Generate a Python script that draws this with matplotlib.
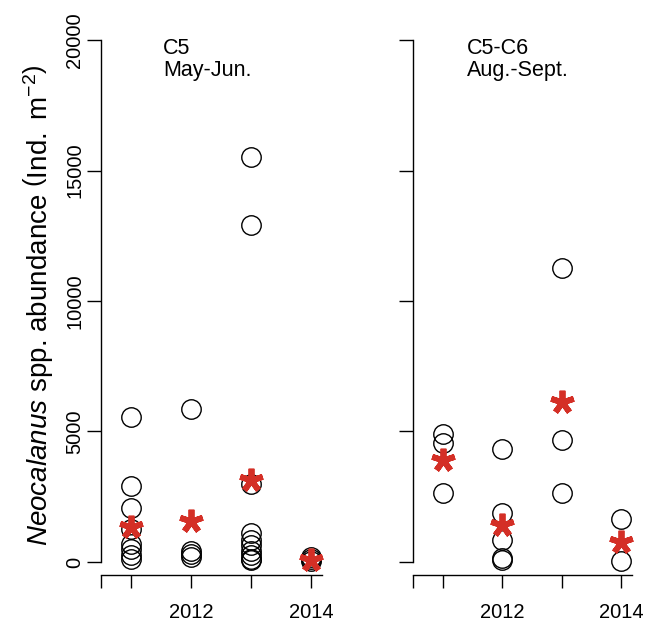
import matplotlib
matplotlib.use("Agg")
import matplotlib.pyplot as plt

plt.rcParams['font.family'] = ['Liberation Sans', 'DejaVu Sans']
plt.rcParams['mathtext.fontset'] = 'custom'
plt.rcParams['mathtext.rm'] = 'Liberation Sans'
plt.rcParams['mathtext.it'] = 'Liberation Sans:italic'
plt.rcParams['mathtext.bf'] = 'Liberation Sans:bold'

# ---- data ----
years = [2011, 2012, 2013, 2014]
xtick_pos = [2010.5, 2011, 2012, 2013, 2014]
xtick_labels = ["", "", "2012", "", "2014"]
yticks = [0, 5000, 10000, 15000, 20000]
ytick_labels = ["0", "5000", "10000", "15000", "20000"]

c5_2011 = [5570, 2910, 2080, 1280, 680, 480, 250, 120]
c5_2012 = [5850, 420, 300, 180]
c5_2013 = [15500, 12900, 2990, 1100, 850, 650, 420, 250, 130, 60]
c5_2014 = [200, 120, 50]
c5_mean = [1340, 1580, 3150, 90]

c56_2011 = [4900, 4550, 2630]
c56_2012 = [4330, 1890, 840, 140, 70]
c56_2013 = [11270, 4670, 2630]
c56_2014 = [1630, 20]
c56_mean = [3910, 1420, 6140, 780]

panel_titles = ["C5\nMay-Jun.", "C5-C6\nAug.-Sept."]

star_color = '#d42f26'

W, H = 663, 626
fig = plt.figure(figsize=(W / 100, H / 100), dpi=100)

def rect(x0, x1, ytop, ybot):
    return [x0 / W, 1 - ybot / H, (x1 - x0) / W, (ybot - ytop) / H]

ax1 = fig.add_axes(rect(101, 322, 27, 575))
ax2 = fig.add_axes(rect(413, 632, 27, 575))

panels = [
    (ax1, [c5_2011, c5_2012, c5_2013, c5_2014], c5_mean, True),
    (ax2, [c56_2011, c56_2012, c56_2013, c56_2014], c56_mean, False),
]

for i, (ax, groups, means, show_labels) in enumerate(panels):
    for yr, vals in zip(years, groups):
        ax.plot([yr] * len(vals), vals, linestyle='none', marker='o',
                markersize=14, markerfacecolor='none', markeredgecolor='black',
                markeredgewidth=1.0, clip_on=False, zorder=2)
    ax.plot(years, means, linestyle='none', marker=(5, 2, 0), markersize=17,
            markeredgewidth=4.2, color=star_color, clip_on=False, zorder=3)
    ax.set_xlim(2010.5, 2014.18)
    ax.set_ylim(-500, 20500)
    for s in ['top', 'right']:
        ax.spines[s].set_visible(False)
    ax.spines['left'].set_bounds(0, 20000)
    ax.spines['left'].set_linewidth(1.0)
    ax.spines['bottom'].set_linewidth(1.0)
    ax.set_xticks(xtick_pos)
    ax.set_xticklabels(xtick_labels, fontsize=14.5)
    ax.set_yticks(yticks)
    if show_labels:
        ax.set_yticklabels(ytick_labels, fontsize=14.5, rotation=90, va='center')
    else:
        ax.set_yticklabels([])
    ax.tick_params(axis='x', length=9.5, width=1.0, pad=11)
    ax.tick_params(axis='y', length=10, width=1.0, pad=2)
    ax.patch.set_visible(False)
    ax.text(0.28 if i == 0 else 0.245, 0.98, panel_titles[i], transform=ax.transAxes,
            fontsize=15.5, ha='left', va='top', linespacing=1.05)

fig.text(38 / W, 1 - 305 / H,
         r"$\mathit{Neocalanus}$ spp. abundance $\left(\mathrm{Ind.\ m^{-2}}\right)$",
         rotation=90, ha='center', va='center', fontsize=20)

fig.savefig("out.png", dpi=100)
